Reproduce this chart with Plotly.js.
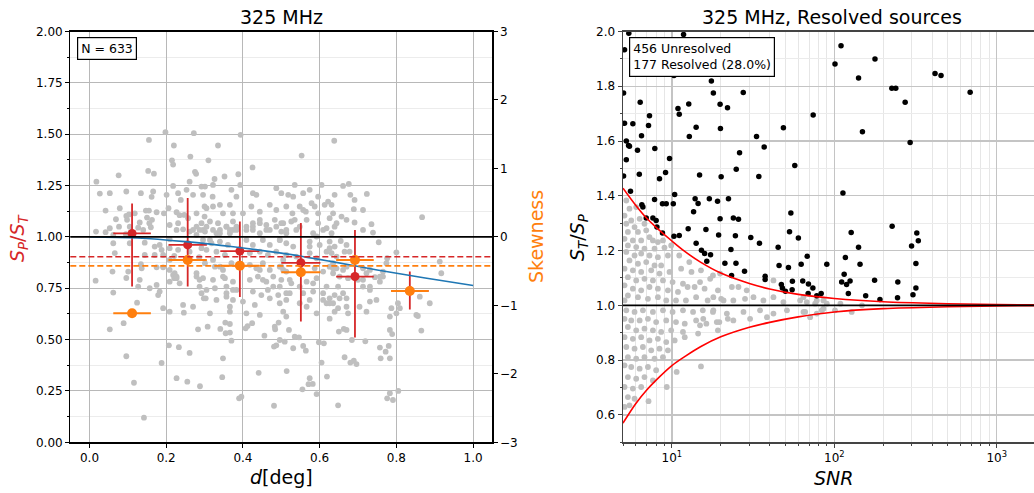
<!DOCTYPE html>
<html>
<head>
<meta charset="utf-8">
<script src="https://cdn.plot.ly/plotly-3.0.1.min.js"></script>
<style>
html,body{margin:0;padding:0;overflow:hidden;background:#fff;}
#chart{width:1034px;height:493px;}
</style>
</head>
<body>
<div id="chart"></div>
<script>
// ---------- Left panel: individual sources (d [deg], S_P/S_T) ----------
const leftTop = [[0.198,1.51],[0.272,1.505],[0.394,1.497],[0.155,1.472],[0.638,1.468],[0.220,1.445],[0.335,1.445],[0.553,1.396],[0.263,1.391],[0.215,1.373],[0.218,1.352],[0.310,1.373],[0.425,1.338],[0.153,1.321],[0.168,1.308],[0.076,1.300],[0.275,1.317],[0.278,1.307],[0.388,1.305],[0.352,1.294],[0.326,1.282],[0.162,1.195],[0.238,1.180]];
const leftLow = [[0.053,0.550],[0.089,0.580],[0.096,0.419],[0.116,0.290],[0.142,0.120],[0.188,0.386],[0.207,0.472],[0.227,0.312],[0.233,0.463],[0.255,0.295],[0.261,0.435],[0.283,0.550],[0.288,0.273],[0.308,0.563],[0.341,0.552],[0.346,0.317],[0.348,0.409],[0.354,0.583],[0.355,0.531],[0.366,0.534],[0.366,0.576],[0.370,0.495],[0.390,0.214],[0.396,0.222],[0.407,0.555],[0.412,0.566],[0.424,0.580],[0.441,0.338],[0.456,0.519],[0.481,0.178],[0.481,0.466],[0.487,0.472],[0.483,0.563],[0.484,0.550],[0.493,0.583],[0.496,0.498],[0.509,0.490],[0.514,0.347],[0.520,0.547],[0.531,0.458],[0.535,0.514],[0.546,0.511],[0.555,0.258],[0.557,0.469],[0.564,0.446],[0.574,0.312],[0.571,0.283],[0.582,0.284],[0.592,0.235],[0.598,0.487],[0.611,0.482],[0.605,0.388],[0.619,0.320],[0.626,0.602],[0.648,0.180],[0.650,0.539],[0.665,0.414],[0.663,0.552],[0.670,0.547],[0.680,0.388],[0.689,0.397],[0.696,0.381],[0.684,0.498],[0.719,0.492],[0.757,0.461],[0.759,0.409],[0.772,0.441],[0.783,0.409],[0.780,0.469],[0.783,0.547],[0.789,0.527],[0.776,0.214],[0.783,0.239],[0.791,0.206],[0.805,0.250],[0.865,0.544],[0.852,0.620]];
const leftA = [[0.027,1.211],[0.053,1.213],[0.096,1.221],[0.134,1.213],[0.166,1.221],[0.201,1.205],[0.231,1.213],[0.253,1.229],[0.270,1.205],[0.292,1.245],[0.218,1.248],[0.018,1.269],[0.261,1.269],[0.042,1.128],[0.079,1.140],[0.103,1.109],[0.147,1.128],[0.155,1.128],[0.175,1.120],[0.194,1.115],[0.227,1.120],[0.235,1.106],[0.257,1.091],[0.279,1.115],[0.300,1.148],[0.300,1.099],[0.069,1.086],[0.098,1.083],[0.150,1.094],[0.156,1.067],[0.077,1.050],[0.105,1.050],[0.127,1.045],[0.160,1.047],[0.209,1.058],[0.231,1.067],[0.227,1.034],[0.244,1.037],[0.261,1.026],[0.279,1.050],[0.296,1.034],[0.042,1.023],[0.062,0.969],[0.105,0.969],[0.144,0.972],[0.170,0.953],[0.209,0.989],[0.209,0.945],[0.231,0.937],[0.261,0.928],[0.292,0.945],[0.066,0.921],[0.144,0.912],[0.170,0.912],[0.192,0.912],[0.221,0.907],[0.286,0.901],[0.134,0.867],[0.175,0.852],[0.192,0.852],[0.209,0.839],[0.101,0.831],[0.136,0.847],[0.016,0.787],[0.060,0.831],[0.131,0.791],[0.157,0.750],[0.175,0.766],[0.127,0.758],[0.183,0.734],[0.209,0.782],[0.218,0.815],[0.221,0.799],[0.227,0.799],[0.235,0.774],[0.179,0.717],[0.062,0.729],[0.124,0.680],[0.192,0.653],[0.209,0.636],[0.244,0.669],[0.270,0.660],[0.246,0.631],[0.279,0.807],[0.287,0.758],[0.292,0.726],[0.303,0.701],[0.096,0.800],[0.017,1.026],[0.053,1.042],[0.062,1.010],[0.140,1.034],[0.095,1.013],[0.131,1.070],[0.118,1.115],[0.163,1.083],[0.096,1.102],[0.206,1.140],[0.247,1.107]];
const leftB = [[0.183,0.961],[0.188,0.937],[0.209,0.888],[0.222,0.823],[0.227,0.807],[0.270,1.034],[0.279,1.010],[0.287,1.034],[0.305,1.050],[0.314,0.985],[0.331,1.018],[0.340,1.034],[0.357,1.050],[0.366,1.018],[0.374,1.034],[0.383,1.050],[0.409,1.034],[0.426,1.050],[0.444,1.067],[0.461,1.034],[0.487,1.050],[0.505,1.067],[0.279,0.823],[0.287,0.791],[0.322,0.888],[0.340,0.855],[0.348,0.807],[0.357,0.758],[0.374,0.742],[0.357,0.709],[0.366,0.660],[0.444,0.839],[0.452,0.791],[0.479,0.807],[0.496,0.758],[0.505,0.839],[0.513,0.726]];
const leftC = [[0.301,1.245],[0.322,1.253],[0.296,1.205],[0.321,1.196],[0.340,1.156],[0.370,1.229],[0.383,1.196],[0.393,1.253],[0.426,1.213],[0.435,1.205],[0.487,1.237],[0.500,1.213],[0.518,1.205],[0.531,1.196],[0.535,1.253],[0.557,1.213],[0.574,1.229],[0.605,1.253],[0.622,1.172],[0.613,1.156],[0.639,1.205],[0.305,1.140],[0.322,1.148],[0.348,1.115],[0.366,1.156],[0.374,1.115],[0.400,1.115],[0.422,1.148],[0.444,1.123],[0.470,1.156],[0.487,1.131],[0.513,1.148],[0.529,1.115],[0.548,1.148],[0.564,1.123],[0.587,1.148],[0.596,1.115],[0.631,1.156],[0.635,1.115],[0.292,1.067],[0.314,1.075],[0.335,1.067],[0.357,1.050],[0.374,1.075],[0.409,1.050],[0.426,1.067],[0.444,1.083],[0.461,1.058],[0.483,1.083],[0.500,1.067],[0.526,1.075],[0.548,1.050],[0.566,1.083],[0.596,1.067],[0.618,1.042],[0.644,1.067],[0.301,1.026],[0.322,1.034],[0.340,1.018],[0.366,1.034],[0.383,1.034],[0.426,1.034],[0.444,1.018],[0.470,1.034],[0.500,1.026],[0.513,1.018],[0.539,1.034],[0.583,1.018],[0.609,1.034],[0.631,1.018],[0.296,0.985],[0.318,0.969],[0.340,0.977],[0.361,0.961],[0.409,0.985],[0.426,0.961],[0.452,0.985],[0.470,0.961],[0.496,0.985],[0.513,0.969],[0.531,0.953],[0.574,0.977],[0.600,0.961],[0.626,0.977],[0.305,0.937],[0.331,0.928],[0.353,0.912],[0.418,0.921],[0.444,0.928],[0.465,0.912],[0.487,0.928],[0.513,0.912],[0.574,0.921],[0.592,0.896],[0.618,0.928],[0.644,0.904],[0.301,0.872],[0.327,0.855],[0.348,0.839],[0.370,0.872],[0.418,0.864],[0.435,0.847],[0.452,0.872],[0.470,0.839],[0.496,0.855],[0.513,0.831],[0.548,0.823],[0.587,0.847],[0.609,0.831],[0.635,0.847],[0.296,0.799],[0.322,0.791],[0.353,0.799],[0.374,0.782],[0.418,0.791],[0.439,0.807],[0.461,0.782],[0.479,0.758],[0.500,0.791],[0.526,0.774],[0.566,0.782],[0.592,0.799],[0.618,0.758],[0.305,0.742],[0.327,0.750],[0.357,0.726],[0.383,0.742],[0.426,0.734],[0.448,0.717],[0.465,0.742],[0.492,0.717],[0.522,0.726],[0.557,0.726],[0.583,0.734],[0.298,0.701],[0.331,0.693],[0.374,0.693],[0.400,0.685],[0.431,0.669],[0.470,0.701],[0.496,0.677],[0.548,0.677],[0.574,0.693],[0.609,0.693],[0.618,0.677],[0.314,0.628],[0.366,0.636],[0.409,0.628],[0.444,0.620],[0.505,0.636],[0.592,0.628],[0.513,0.612]];
const leftD = [[0.661,1.248],[0.676,1.258],[0.680,1.205],[0.723,1.209],[0.691,1.180],[0.713,1.131],[0.689,1.135],[0.626,1.091],[0.657,1.099],[0.670,1.083],[0.691,1.070],[0.735,1.062],[0.867,1.096],[0.639,1.050],[0.713,1.034],[0.739,1.021],[0.754,0.974],[0.655,0.980],[0.639,0.953],[0.670,0.961],[0.678,0.928],[0.665,0.928],[0.631,0.921],[0.800,0.925],[0.776,0.896],[0.774,0.872],[0.626,0.855],[0.644,0.847],[0.661,0.839],[0.635,0.823],[0.713,0.847],[0.722,0.823],[0.731,0.839],[0.765,0.831],[0.765,0.807],[0.757,0.782],[0.744,0.804],[0.913,0.880],[0.917,0.823],[0.674,0.799],[0.700,0.791],[0.713,0.758],[0.731,0.742],[0.648,0.758],[0.661,0.726],[0.639,0.717],[0.626,0.701],[0.652,0.701],[0.635,0.677],[0.670,0.701],[0.648,0.653],[0.670,0.660],[0.704,0.660],[0.731,0.685],[0.748,0.693],[0.787,0.653],[0.804,0.677],[0.809,0.653],[0.800,0.628],[0.783,0.612],[0.856,0.615],[0.887,0.677],[0.861,0.709],[0.639,0.636],[0.674,0.628],[0.722,0.636]];
const leftE = [[0.496,0.985],[0.513,1.034],[0.535,1.083],[0.557,1.131],[0.579,1.164],[0.596,1.196],[0.539,0.904],[0.574,0.953],[0.592,1.002],[0.626,0.945],[0.635,0.872],[0.652,0.807],[0.670,0.855],[0.522,0.791],[0.548,0.758],[0.583,0.774],[0.609,0.726],[0.513,0.693],[0.566,0.660],[0.626,0.677],[0.713,0.791],[0.731,0.758],[0.757,0.807],[0.505,0.888],[0.500,0.855]];

// ---------- Left panel: binned statistics ----------
const binD = [0.111, 0.256, 0.392, 0.551, 0.692, 0.835];
const binDErr = [0.049, 0.050, 0.051, 0.051, 0.049, 0.049];
const ratioMean = [1.017, 0.961, 0.931, 0.874, 0.807, 0.737];
const ratioErrUp = [0.146, 0.228, 0.144, 0.194, 0.227, 0.094];
const ratioErrDown = [0.259, 0.203, 0.223, 0.286, 0.297, 0.090];
const skewMean = [-1.116, -0.336, -0.420, -0.516, -0.336, -0.789];
const fitD = [0.0, 0.125, 0.25, 0.375, 0.5, 0.625, 0.75, 0.875, 1.0];
const fitRatio = [1.0, 0.995, 0.977, 0.952, 0.921, 0.882, 0.839, 0.800, 0.763];
const unityLine = 1.0;
const meanRatioLine = 0.903;
const meanSkewLine = -0.423;

// ---------- Right panel: SNR vs S_T/S_P ----------
const resolvedPts = [[5.43,1.994],[5.11,1.933],[11.8,1.989],[5.04,1.775],[10.3,1.839],[17.5,1.819],[18.0,1.775],[27.5,1.777],[5.11,1.665],[5.75,1.663],[6.38,1.742],[7.28,1.692],[6.50,1.619],[7.18,1.657],[10.9,1.719],[11.1,1.698],[12.7,1.735],[19.8,1.734],[22.0,1.722],[19.9,1.646],[14.1,1.650],[12.8,1.617],[5.24,1.600],[5.41,1.584],[5.48,1.581],[6.14,1.566],[7.85,1.573],[9.67,1.536],[5.24,1.532],[9.14,1.485],[5.04,1.472],[6.30,1.479],[8.39,1.462],[14.8,1.476],[20.1,1.470],[24.9,1.497],[26.1,1.557],[33.2,1.617],[37.0,1.578],[34.3,1.471],[48.6,1.649],[57.1,1.511],[5.56,1.417],[10.4,1.405],[6.53,1.367],[6.63,1.359],[7.82,1.387],[8.75,1.371],[9.23,1.371],[10.2,1.371],[13.9,1.389],[14.5,1.372],[17.0,1.389],[19.1,1.380],[22.3,1.389],[13.6,1.342],[6.95,1.319],[7.64,1.319],[8.00,1.310],[8.09,1.286],[8.75,1.264],[10.3,1.252],[11.1,1.255],[12.6,1.280],[19.8,1.316],[23.9,1.319],[25.7,1.314],[16.2,1.277],[19.4,1.257],[24.6,1.254],[14.1,1.227],[15.2,1.201],[15.9,1.189],[17.3,1.185],[16.4,1.161],[23.1,1.204],[21.2,1.154],[24.8,1.154],[23.3,1.109],[28.0,1.125],[30.6,1.248],[34.6,1.227],[45.1,1.212],[45.7,1.146],[52.2,1.138],[53.0,1.269],[54.0,1.337],[60.1,1.246],[62.5,1.150],[68.1,1.179],[37.5,1.106],[37.5,1.094],[47.2,1.076],[47.9,1.063],[50.0,1.052],[55.2,1.088],[55.0,1.057],[63.9,1.089],[69.0,1.043],[110,1.948],[101,1.881],[178,1.900],[141,1.830],[226,1.793],[239,1.793],[417,1.847],[454,1.839],[686,1.778],[273,1.742],[74.1,1.695],[149,1.634],[293,1.595],[113,1.410],[127,1.266],[227,1.289],[322,1.264],[329,1.236],[299,1.217],[141,1.212],[117,1.175],[89.9,1.150],[144,1.150],[318,1.153],[115,1.114],[69.3,1.078],[73.8,1.063],[111,1.085],[125,1.089],[177,1.092],[246,1.085],[318,1.063],[78.0,1.035],[83.0,1.043],[122,1.043],[156,1.035],[191,1.021],[245,1.028],[305,1.039],[119,1.076]];
const unresolvedPts = [[5.24,1.383],[5.48,1.353],[6.03,1.359],[5.11,1.328],[5.62,1.310],[6.33,1.316],[5.24,1.298],[5.89,1.286],[6.78,1.298],[5.36,1.268],[6.18,1.268],[6.95,1.274],[7.28,1.249],[5.11,1.243],[5.75,1.237],[6.47,1.237],[7.64,1.237],[8.20,1.231],[8.81,1.237],[5.36,1.219],[6.03,1.213],[6.78,1.207],[7.82,1.207],[9.00,1.211],[9.90,1.219],[5.24,1.195],[5.89,1.182],[6.47,1.189],[7.28,1.182],[8.20,1.176],[9.45,1.182],[11.1,1.182],[12.8,1.158],[11.4,1.134],[5.48,1.164],[6.18,1.152],[6.95,1.158],[7.82,1.146],[8.59,1.146],[5.11,1.134],[5.75,1.128],[6.47,1.122],[7.46,1.128],[8.39,1.116],[9.67,1.122],[13.2,1.122],[15.1,1.128],[17.9,1.109],[5.36,1.103],[6.03,1.091],[6.78,1.097],[7.64,1.091],[8.81,1.091],[10.1,1.085],[11.7,1.079],[12.5,1.067],[13.8,1.067],[15.9,1.061],[19.2,1.055],[5.11,1.073],[5.75,1.061],[6.47,1.055],[7.28,1.067],[8.20,1.061],[9.45,1.055],[10.9,1.049],[5.36,1.036],[6.18,1.030],[7.12,1.024],[8.20,1.030],[9.23,1.018],[10.6,1.018],[12.2,1.018],[14.1,1.030],[16.6,1.018],[20.1,1.024],[5.11,1.018],[5.24,0.982],[5.89,0.976],[6.63,0.982],[7.64,0.976],[8.81,0.982],[10.1,0.976],[11.7,0.982],[13.5,0.976],[15.5,0.982],[17.9,0.976],[5.11,0.951],[5.62,0.945],[6.33,0.945],[7.12,0.951],[8.00,0.939],[9.23,0.945],[10.6,0.939],[12.0,0.933],[14.1,0.945],[16.3,0.933],[19.6,0.939],[22.1,0.951],[5.36,0.921],[6.03,0.909],[6.78,0.915],[7.64,0.909],[8.59,0.903],[9.90,0.909],[11.7,0.903],[14.5,0.897],[19.2,0.909],[5.11,0.884],[5.75,0.878],[6.47,0.884],[7.28,0.872],[8.20,0.878],[9.23,0.866],[10.4,0.872],[12.0,0.884],[5.24,0.848],[5.89,0.842],[6.63,0.848],[7.46,0.836],[8.39,0.842],[9.45,0.836],[5.36,0.811],[6.03,0.805],[6.78,0.811],[7.82,0.805],[8.81,0.811],[15.1,0.777],[5.11,0.781],[5.62,0.775],[6.33,0.769],[7.12,0.775],[8.00,0.763],[5.36,0.738],[6.03,0.732],[6.78,0.738],[7.64,0.726],[5.11,0.702],[5.75,0.696],[6.47,0.702],[5.36,0.665],[5.89,0.659],[5.11,0.629],[5.48,0.635],[7.18,0.650],[9.3,0.702],[10.7,0.757],[14.9,1.085],[17.2,1.097],[19.8,1.116],[23.4,1.067],[25.7,1.067],[28.9,1.055],[31.8,1.030],[28.2,1.024],[18.0,1.030],[20.8,1.018],[23.9,1.018],[36.6,1.018],[42.2,1.030],[48.6,1.012],[61.6,1.018],[78.0,1.018],[89.9,1.006],[42.2,1.091],[18.0,0.982],[21.8,0.970],[27.6,0.976],[34.9,0.982],[42.2,0.970],[51.1,0.982],[64.6,0.976],[78.0,0.970],[85.7,0.988],[15.6,0.951],[18.9,0.939],[23.9,0.945],[30.3,0.951],[38.5,0.957],[14.9,0.927],[64.6,1.030],[67.7,1.012],[76.2,1.006],[85.7,1.018],[101,0.982],[109,1.006],[148,1.000],[66.1,0.976],[71.0,0.957],[83.7,0.982],[128,0.976]];
const curveSNR = [5, 6, 7, 8, 10, 12, 15, 20, 30, 40, 60, 100, 200, 500, 1000, 1700];
const upperCurve = [1.428, 1.365, 1.318, 1.285, 1.235, 1.197, 1.158, 1.118, 1.080, 1.060, 1.040, 1.025, 1.013, 1.006, 1.003, 1.002];
const lowerCurve = [0.570, 0.642, 0.691, 0.727, 0.780, 0.813, 0.849, 0.885, 0.920, 0.938, 0.958, 0.976, 0.988, 0.995, 0.998, 0.999];
const nUnresolved = 456, nResolved = 177;

// ---------- assemble ----------
const leftAll = [].concat(leftTop, leftLow, leftA, leftB, leftC, leftD, leftE);
const RED = '#d62728', ORANGE = '#ff7f0e', BLUE = '#1f77b4', GREY = '#bfbfbf';
const FONT = 'DejaVu Sans, Liberation Sans, sans-serif';

const traces = [
  {x: leftAll.map(p => p[0]), y: leftAll.map(p => p[1]), type: 'scatter', mode: 'markers',
   marker: {color: GREY, size: 5.8, line: {width: 0}}, xaxis: 'x', yaxis: 'y', hoverinfo: 'skip'},
  {x: binD, y: ratioMean, type: 'scatter', mode: 'markers', xaxis: 'x', yaxis: 'y',
   marker: {color: RED, size: 9, line: {width: 0}},
   error_y: {type: 'data', symmetric: false, array: ratioErrUp, arrayminus: ratioErrDown, color: RED, thickness: 1.8, width: 0},
   error_x: {type: 'data', array: binDErr, color: RED, thickness: 1.8, width: 0}},
  {x: fitD, y: fitRatio, type: 'scatter', mode: 'lines', line: {color: BLUE, width: 1.6, shape: 'spline'}, xaxis: 'x', yaxis: 'y'},
  {x: binD, y: skewMean, type: 'scatter', mode: 'markers', xaxis: 'x', yaxis: 'y2',
   marker: {color: ORANGE, size: 10, line: {width: 0}},
   error_x: {type: 'data', array: binDErr, color: ORANGE, thickness: 2, width: 0}},
  {x: unresolvedPts.map(p => p[0]), y: unresolvedPts.map(p => p[1]), type: 'scatter', mode: 'markers',
   marker: {color: GREY, size: 5.8, line: {width: 0}}, xaxis: 'x2', yaxis: 'y3'},
  {x: resolvedPts.map(p => p[0]), y: resolvedPts.map(p => p[1]), type: 'scatter', mode: 'markers',
   marker: {color: '#000000', size: 5.5, line: {width: 0}}, xaxis: 'x2', yaxis: 'y3'},
  {x: curveSNR, y: upperCurve, type: 'scatter', mode: 'lines', line: {color: '#ff0000', width: 1.6, shape: 'spline', smoothing: 1}, xaxis: 'x2', yaxis: 'y3'},
  {x: curveSNR, y: lowerCurve, type: 'scatter', mode: 'lines', line: {color: '#ff0000', width: 1.6, shape: 'spline', smoothing: 1}, xaxis: 'x2', yaxis: 'y3'}
];

const W = 1034, H = 493;
const px = v => v / W, py = v => (H - v) / H;
const yDom = [py(442.3), py(31.5)];
const minorLog = [];
[1, 10, 100, 1000].forEach(d => { for (let k = 2; k <= 9; k++) minorLog.push(k * d); });

const tickFont = {family: FONT, size: 12, color: '#000'};
const layout = {
  width: W, height: H, autosize: false,
  margin: {l: 0, r: 0, t: 0, b: 0, pad: 0},
  paper_bgcolor: '#fff', plot_bgcolor: '#fff',
  showlegend: false,
  font: {family: FONT, size: 12, color: '#000'},
  xaxis: {domain: [px(70.3), px(492.3)], range: [-0.05, 1.05], anchor: 'y',
    tick0: 0, dtick: 0.2, tickformat: '.1f', ticks: 'outside', ticklen: 4, tickcolor: '#000',
    showline: true, linecolor: '#000', linewidth: 1.2, mirror: true,
    showgrid: true, gridcolor: '#b8b8b8', gridwidth: 1, zeroline: false, tickfont: tickFont},
  yaxis: {domain: yDom, range: [0, 2], anchor: 'x',
    tick0: 0, dtick: 0.25, tickformat: '.2f', ticks: 'outside', ticklen: 4, tickcolor: '#000',
    showline: true, linecolor: '#000', linewidth: 1.2, mirror: true,
    showgrid: true, gridcolor: '#b8b8b8', gridwidth: 1, zeroline: false, tickfont: tickFont,
    minor: {dtick: 0.125, ticks: 'outside', ticklen: 2, tickcolor: '#000', showgrid: true, gridcolor: '#ececec', gridwidth: 1}},
  yaxis2: {overlaying: 'y', side: 'right', anchor: 'x', range: [-3, 3], dtick: 1, tick0: 0,
    ticks: 'outside', ticklen: 4, tickcolor: '#000', showline: true, linecolor: '#000', linewidth: 1.2,
    showgrid: false, zeroline: false, tickfont: tickFont},
  xaxis2: {domain: [px(623), 1], type: 'log', range: [Math.log10(5), 3.2295], anchor: 'y3',
    tickvals: [10, 100, 1000], ticktext: ['10<sup>1</sup>', '10<sup>2</sup>', '10<sup>3</sup>'],
    ticks: 'outside', ticklen: 4, tickcolor: '#444',
    showline: true, linecolor: '#444', linewidth: 1.4, mirror: true,
    showgrid: true, gridcolor: '#c4c4c4', gridwidth: 1.3, zeroline: false, tickfont: tickFont,
    minor: {tickvals: minorLog, ticks: 'outside', ticklen: 2, tickcolor: '#444', showgrid: true, gridcolor: '#e6e6e6', gridwidth: 1}},
  yaxis3: {domain: yDom, range: [0.5, 2.0], anchor: 'x2',
    tick0: 0, dtick: 0.2, tickformat: '.1f', ticks: 'outside', ticklen: 4, tickcolor: '#444',
    showline: true, linecolor: '#444', linewidth: 1.4, mirror: false,
    showgrid: true, gridcolor: '#c4c4c4', gridwidth: 1.3, zeroline: false, tickfont: tickFont,
    minor: {dtick: 0.1, ticks: 'outside', ticklen: 2, tickcolor: '#444', showgrid: true, gridcolor: '#ebebeb', gridwidth: 1}},
  shapes: [
    {type: 'line', xref: 'x domain', yref: 'y', x0: 0, x1: 1, y0: unityLine, y1: unityLine, line: {color: '#000', width: 1.6}, layer: 'above'},
    {type: 'line', xref: 'x domain', yref: 'y', x0: 0, x1: 1, y0: meanRatioLine, y1: meanRatioLine, line: {color: RED, width: 1.6, dash: '6px,3px'}, layer: 'above'},
    {type: 'line', xref: 'x domain', yref: 'y2', x0: 0, x1: 1, y0: meanSkewLine, y1: meanSkewLine, line: {color: ORANGE, width: 1.6, dash: '6px,3px'}, layer: 'above'},
    {type: 'line', xref: 'x2 domain', yref: 'y3', x0: 0, x1: 1, y0: unityLine, y1: unityLine, line: {color: '#000', width: 1.6}, layer: 'above'}
  ],
  annotations: [
    {text: '325 MHz', xref: 'paper', yref: 'paper', x: px(281), y: py(17), xanchor: 'center', yanchor: 'middle', showarrow: false, font: {family: FONT, size: 19, color: '#000'}},
    {text: '325 MHz, Resolved sources', xref: 'paper', yref: 'paper', x: px(832), y: py(17), xanchor: 'center', yanchor: 'middle', showarrow: false, font: {family: FONT, size: 19, color: '#000'}},
    {text: '<i>d</i>[deg]', xref: 'paper', yref: 'paper', x: px(281), y: py(477), xanchor: 'center', yanchor: 'middle', showarrow: false, font: {family: FONT, size: 19, color: '#000'}},
    {text: '<i>SNR</i>', xref: 'paper', yref: 'paper', x: px(833), y: py(478), xanchor: 'center', yanchor: 'middle', showarrow: false, font: {family: FONT, size: 19, color: '#000'}},
    {text: '<i>S</i><sub><i>P</i></sub>/<i>S</i><sub><i>T</i></sub>', xref: 'paper', yref: 'paper', x: px(19), y: py(238), xanchor: 'center', yanchor: 'middle', textangle: -90, showarrow: false, font: {family: FONT, size: 19, color: RED}},
    {text: 'Skewness', xref: 'paper', yref: 'paper', x: px(536), y: py(237), xanchor: 'center', yanchor: 'middle', textangle: -90, showarrow: false, font: {family: FONT, size: 19, color: ORANGE}},
    {text: '<i>S</i><sub><i>T</i></sub>/<i>S</i><sub><i>P</i></sub>', xref: 'paper', yref: 'paper', x: px(579), y: py(238), xanchor: 'center', yanchor: 'middle', textangle: -90, showarrow: false, font: {family: FONT, size: 19, color: '#000'}},
    {text: 'N = ' + (nUnresolved + nResolved), xref: 'paper', yref: 'paper', x: px(77), y: py(37), xanchor: 'left', yanchor: 'top', showarrow: false, align: 'left',
     bgcolor: '#fff', bordercolor: '#000', borderwidth: 1.2, borderpad: 3, font: {family: FONT, size: 12.5, color: '#000'}},
    {text: nUnresolved + ' Unresolved<br>' + nResolved + ' Resolved (' + (100 * nResolved / (nUnresolved + nResolved)).toFixed(1) + '%)', xref: 'paper', yref: 'paper', x: px(629), y: py(37), xanchor: 'left', yanchor: 'top', showarrow: false, align: 'left',
     bgcolor: '#fff', bordercolor: '#000', borderwidth: 1.2, borderpad: 3, font: {family: FONT, size: 12.5, color: '#000'}}
  ]
};

Plotly.newPlot('chart', traces, layout, {staticPlot: true, displayModeBar: false});
</script>
</body>
</html>
